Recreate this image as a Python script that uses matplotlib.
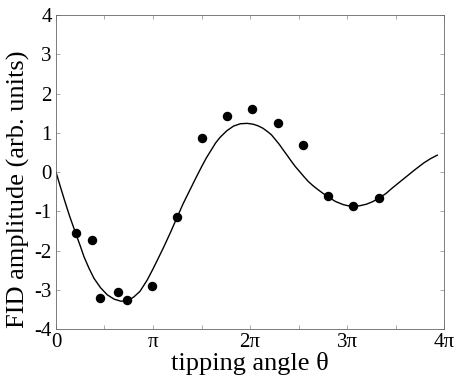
import numpy as np
import matplotlib
matplotlib.use("Agg")
import matplotlib.pyplot as plt

# measured data points (x in units of pi)
pts_x_pi = [0.206, 0.371, 0.457, 0.636, 0.729, 0.986, 1.244, 1.505, 1.766,
            2.017, 2.285, 2.550, 2.807, 3.065, 3.326]
pts_y = [-1.55, -1.74, -3.20, -3.06, -3.26, -2.90, -1.15, 0.87, 1.44,
         1.61, 1.24, 0.70, -0.61, -0.86, -0.67]

# fitted curve (x in units of pi)
curve_x_pi = [0.0, 0.04, 0.082, 0.14, 0.203, 0.25, 0.289, 0.34, 0.392, 0.46,
              0.529, 0.60, 0.667, 0.711, 0.76, 0.804, 0.866, 0.941, 1.0, 1.05,
              1.113, 1.18, 1.244, 1.31, 1.38, 1.44, 1.502, 1.55, 1.60, 1.645,
              1.69, 1.76, 1.83, 1.90, 1.97, 2.03, 2.08, 2.13, 2.17, 2.22,
              2.26, 2.30, 2.34, 2.39, 2.43, 2.47, 2.515, 2.56, 2.60, 2.645,
              2.69, 2.75, 2.81, 2.88, 2.96, 3.01, 3.065, 3.13, 3.20, 3.26,
              3.32, 3.40, 3.47, 3.54, 3.615, 3.70, 3.79, 3.86, 3.93]
curve_y = [0.0, -0.33, -0.67, -1.12, -1.56, -1.88, -2.16, -2.45, -2.71, -2.95,
           -3.13, -3.24, -3.29, -3.29, -3.25, -3.18, -3.04, -2.75, -2.47, -2.22,
           -1.90, -1.54, -1.18, -0.81, -0.46, -0.16, 0.14, 0.36, 0.56, 0.74,
           0.88, 1.05, 1.17, 1.23, 1.24, 1.22, 1.18, 1.12, 1.05, 0.95,
           0.83, 0.71, 0.57, 0.40, 0.26, 0.13, 0.0, -0.13, -0.24, -0.34,
           -0.43, -0.54, -0.64, -0.75, -0.83, -0.86, -0.87, -0.86, -0.82, -0.76,
           -0.68, -0.55, -0.40, -0.26, -0.11, 0.06, 0.23, 0.34, 0.43]

xtick_labels = ["0", "π", "2π", "3π", "4π"]
ytick_labels = ["-4", "-3", "-2", "-1", "0", "1", "2", "3", "4"]

plt.rcParams['font.family'] = ['Liberation Serif', 'DejaVu Serif']

fig = plt.figure(figsize=(4.55, 3.81), dpi=100)
ax = fig.add_axes([0.123, 0.1365, 0.853, 0.824])

ax.plot(np.array(curve_x_pi) * np.pi, curve_y, color='black', lw=1.0)
ax.plot(np.array(pts_x_pi) * np.pi, pts_y, 'o', color='black', ms=5.8)

ax.set_xlim(0, 4 * np.pi)
ax.set_ylim(-4, 4)
ax.set_xticks(np.arange(5) * np.pi)
ax.set_xticklabels(xtick_labels)
ax.set_xticks(np.arange(0.5, 4, 1) * np.pi, minor=True)
ax.set_yticks(np.arange(-4, 5))
ax.set_yticklabels(ytick_labels)

for s in ax.spines.values():
    s.set_linewidth(0.6)
    s.set_color('#666666')

ax.tick_params(which='both', direction='in', top=True, right=True,
               color='#888888', width=0.5, labelsize=15, pad=3)
ax.tick_params(which='major', length=3)
ax.tick_params(which='minor', length=3)

ax.set_xlabel("tipping angle θ", fontsize=19, labelpad=0)
ax.set_ylabel("FID amplitude (arb. units)", fontsize=19)
ax.yaxis.set_label_coords(-0.066, 0.445)

fig.savefig("out.png", dpi=100)
